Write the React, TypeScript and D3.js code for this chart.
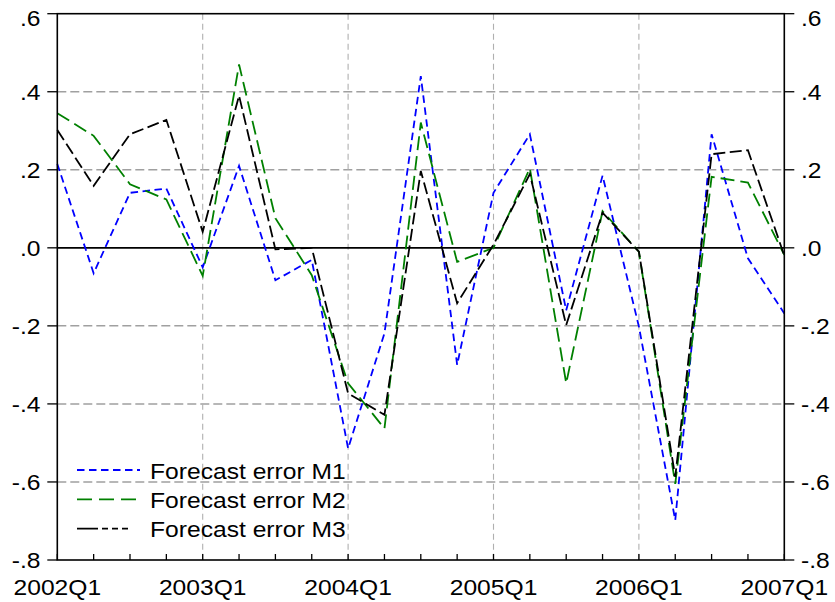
import React from 'react';
import * as d3 from 'd3';

// quarters on the x axis, 2002Q1 .. 2007Q1
const quarters = [
  '2002Q1', '2002Q2', '2002Q3', '2002Q4',
  '2003Q1', '2003Q2', '2003Q3', '2003Q4',
  '2004Q1', '2004Q2', '2004Q3', '2004Q4',
  '2005Q1', '2005Q2', '2005Q3', '2005Q4',
  '2006Q1', '2006Q2', '2006Q3', '2006Q4',
  '2007Q1',
];
const xTickLabels = ['2002Q1', '2003Q1', '2004Q1', '2005Q1', '2006Q1', '2007Q1'];
const yTicks = [-0.8, -0.6, -0.4, -0.2, 0, 0.2, 0.4, 0.6];

const errorM1 = [0.215, -0.065, 0.141, 0.152, -0.05, 0.21, -0.083, -0.031, -0.514, -0.219, 0.44,
  -0.30, 0.141, 0.291, -0.16, 0.185, -0.202, -0.698, 0.291, -0.027, -0.168];
const errorM2 = [0.345, 0.287, 0.163, 0.124, -0.072, 0.47, 0.076, -0.07, -0.347, -0.463, 0.321,
  -0.036, 0.0, 0.204, -0.347, 0.094, -0.01, -0.605, 0.182, 0.167, -0.018];
const errorM3 = [0.302, 0.159, 0.291, 0.328, 0.041, 0.39, -0.004, 0.0, -0.373, -0.428, 0.197,
  -0.142, 0.008, 0.189, -0.198, 0.09, -0.01, -0.587, 0.24, 0.25, -0.02];

const seriesNames = ['Forecast error M1', 'Forecast error M2', 'Forecast error M3'];

const W = 835;
const H = 602;
const plot = { left: 57.3, right: 784.3, top: 13.7, bottom: 560 };
const font = '"Liberation Sans", Arial, Helvetica, sans-serif';
const fs = 22;
const sx = 1.12; // the original text is a bit wide

const series = [
  { name: seriesNames[0], values: errorM1, color: '#0000ff', dash: '7.5,4.5', legendDash: '7.5,4.5' },
  { name: seriesNames[1], values: errorM2, color: '#008000', dash: '14,6', legendDash: '15,7' },
  { name: seriesNames[2], values: errorM3, color: '#000000', dash: '12,4.5', legendDash: '21,4,6,4,6,4,6' },
];

const fmt = (v: number) => (v < 0 ? '-' : '') + '.' + Math.round(Math.abs(v) * 10);

const Txt = ({ x, y, anchor, children }: any) => (
  <text
    transform={`translate(${x},${y}) scale(${sx},1)`}
    textAnchor={anchor}
    fontFamily={font}
    fontSize={fs}
    fill="#000"
  >
    {children}
  </text>
);

export default function App() {
  const x = d3.scalePoint<string>().domain(quarters).range([plot.left, plot.right]);
  const y = d3.scaleLinear().domain([-0.8, 0.6]).range([plot.bottom, plot.top]);

  const line = d3.line<number>()
    .x((_, i) => x(quarters[i]) as number)
    .y(d => y(d));

  return (
    <svg width={W} height={H} style={{ position: 'absolute', left: 0, top: 0, background: '#fff' }}>
      {/* horizontal grid */}
      {yTicks.filter(t => t !== 0 && t !== 0.6 && t !== -0.8).map(t => (
        <line key={'hg' + t} x1={plot.left} x2={plot.right} y1={y(t)} y2={y(t)}
          stroke="#a0a0a0" strokeWidth={1.5} strokeDasharray="9,4" />
      ))}
      {/* vertical grid at each year */}
      {xTickLabels.slice(1, -1).map(q => (
        <line key={'vg' + q} x1={x(q)} x2={x(q)} y1={plot.top} y2={plot.bottom}
          stroke="#b0b0b0" strokeWidth={1.1} strokeDasharray="6,4" />
      ))}
      {/* zero line */}
      <line x1={plot.left} x2={plot.right} y1={y(0)} y2={y(0)} stroke="#000" strokeWidth={1.6} />

      {series.map(s => (
        <path key={s.name} d={line(s.values) as string} fill="none" stroke={s.color}
          strokeWidth={1.8} strokeDasharray={s.dash} />
      ))}

      {/* frame */}
      <rect x={plot.left} y={plot.top} width={plot.right - plot.left} height={plot.bottom - plot.top}
        fill="none" stroke="#000" strokeWidth={1.6} />

      {/* y ticks and labels, both sides */}
      {yTicks.map(t => {
        const yy = y(t);
        const base = Math.max(yy + 7.8, 25.5);
        return (
          <g key={'yt' + t}>
            <line x1={plot.left - 10} x2={plot.left} y1={yy} y2={yy} stroke="#000" strokeWidth={1.3} />
            <line x1={plot.right} x2={plot.right + 10} y1={yy} y2={yy} stroke="#000" strokeWidth={1.3} />
            <Txt x={40.5} y={base} anchor="end">{fmt(t)}</Txt>
            <Txt x={801} y={base} anchor="start">{fmt(t)}</Txt>
          </g>
        );
      })}

      {/* x ticks (inside) and labels */}
      {quarters.map(q => (
        <line key={'xt' + q} x1={x(q)} x2={x(q)} y1={plot.bottom} y2={plot.bottom - 6}
          stroke="#000" strokeWidth={1.3} />
      ))}
      {xTickLabels.map(q => (
        <Txt key={'xl' + q} x={x(q)} y={594.5} anchor="middle">{q}</Txt>
      ))}

      {/* legend */}
      {series.map((s, i) => {
        const base = 478.5 + i * 29.3;
        return (
          <g key={'lg' + s.name}>
            <line x1={77} x2={140} y1={base - 8.5} y2={base - 8.5} stroke={s.color}
              strokeWidth={1.8} strokeDasharray={s.legendDash} />
            <Txt x={150} y={base} anchor="start">{s.name}</Txt>
          </g>
        );
      })}
    </svg>
  );
}
